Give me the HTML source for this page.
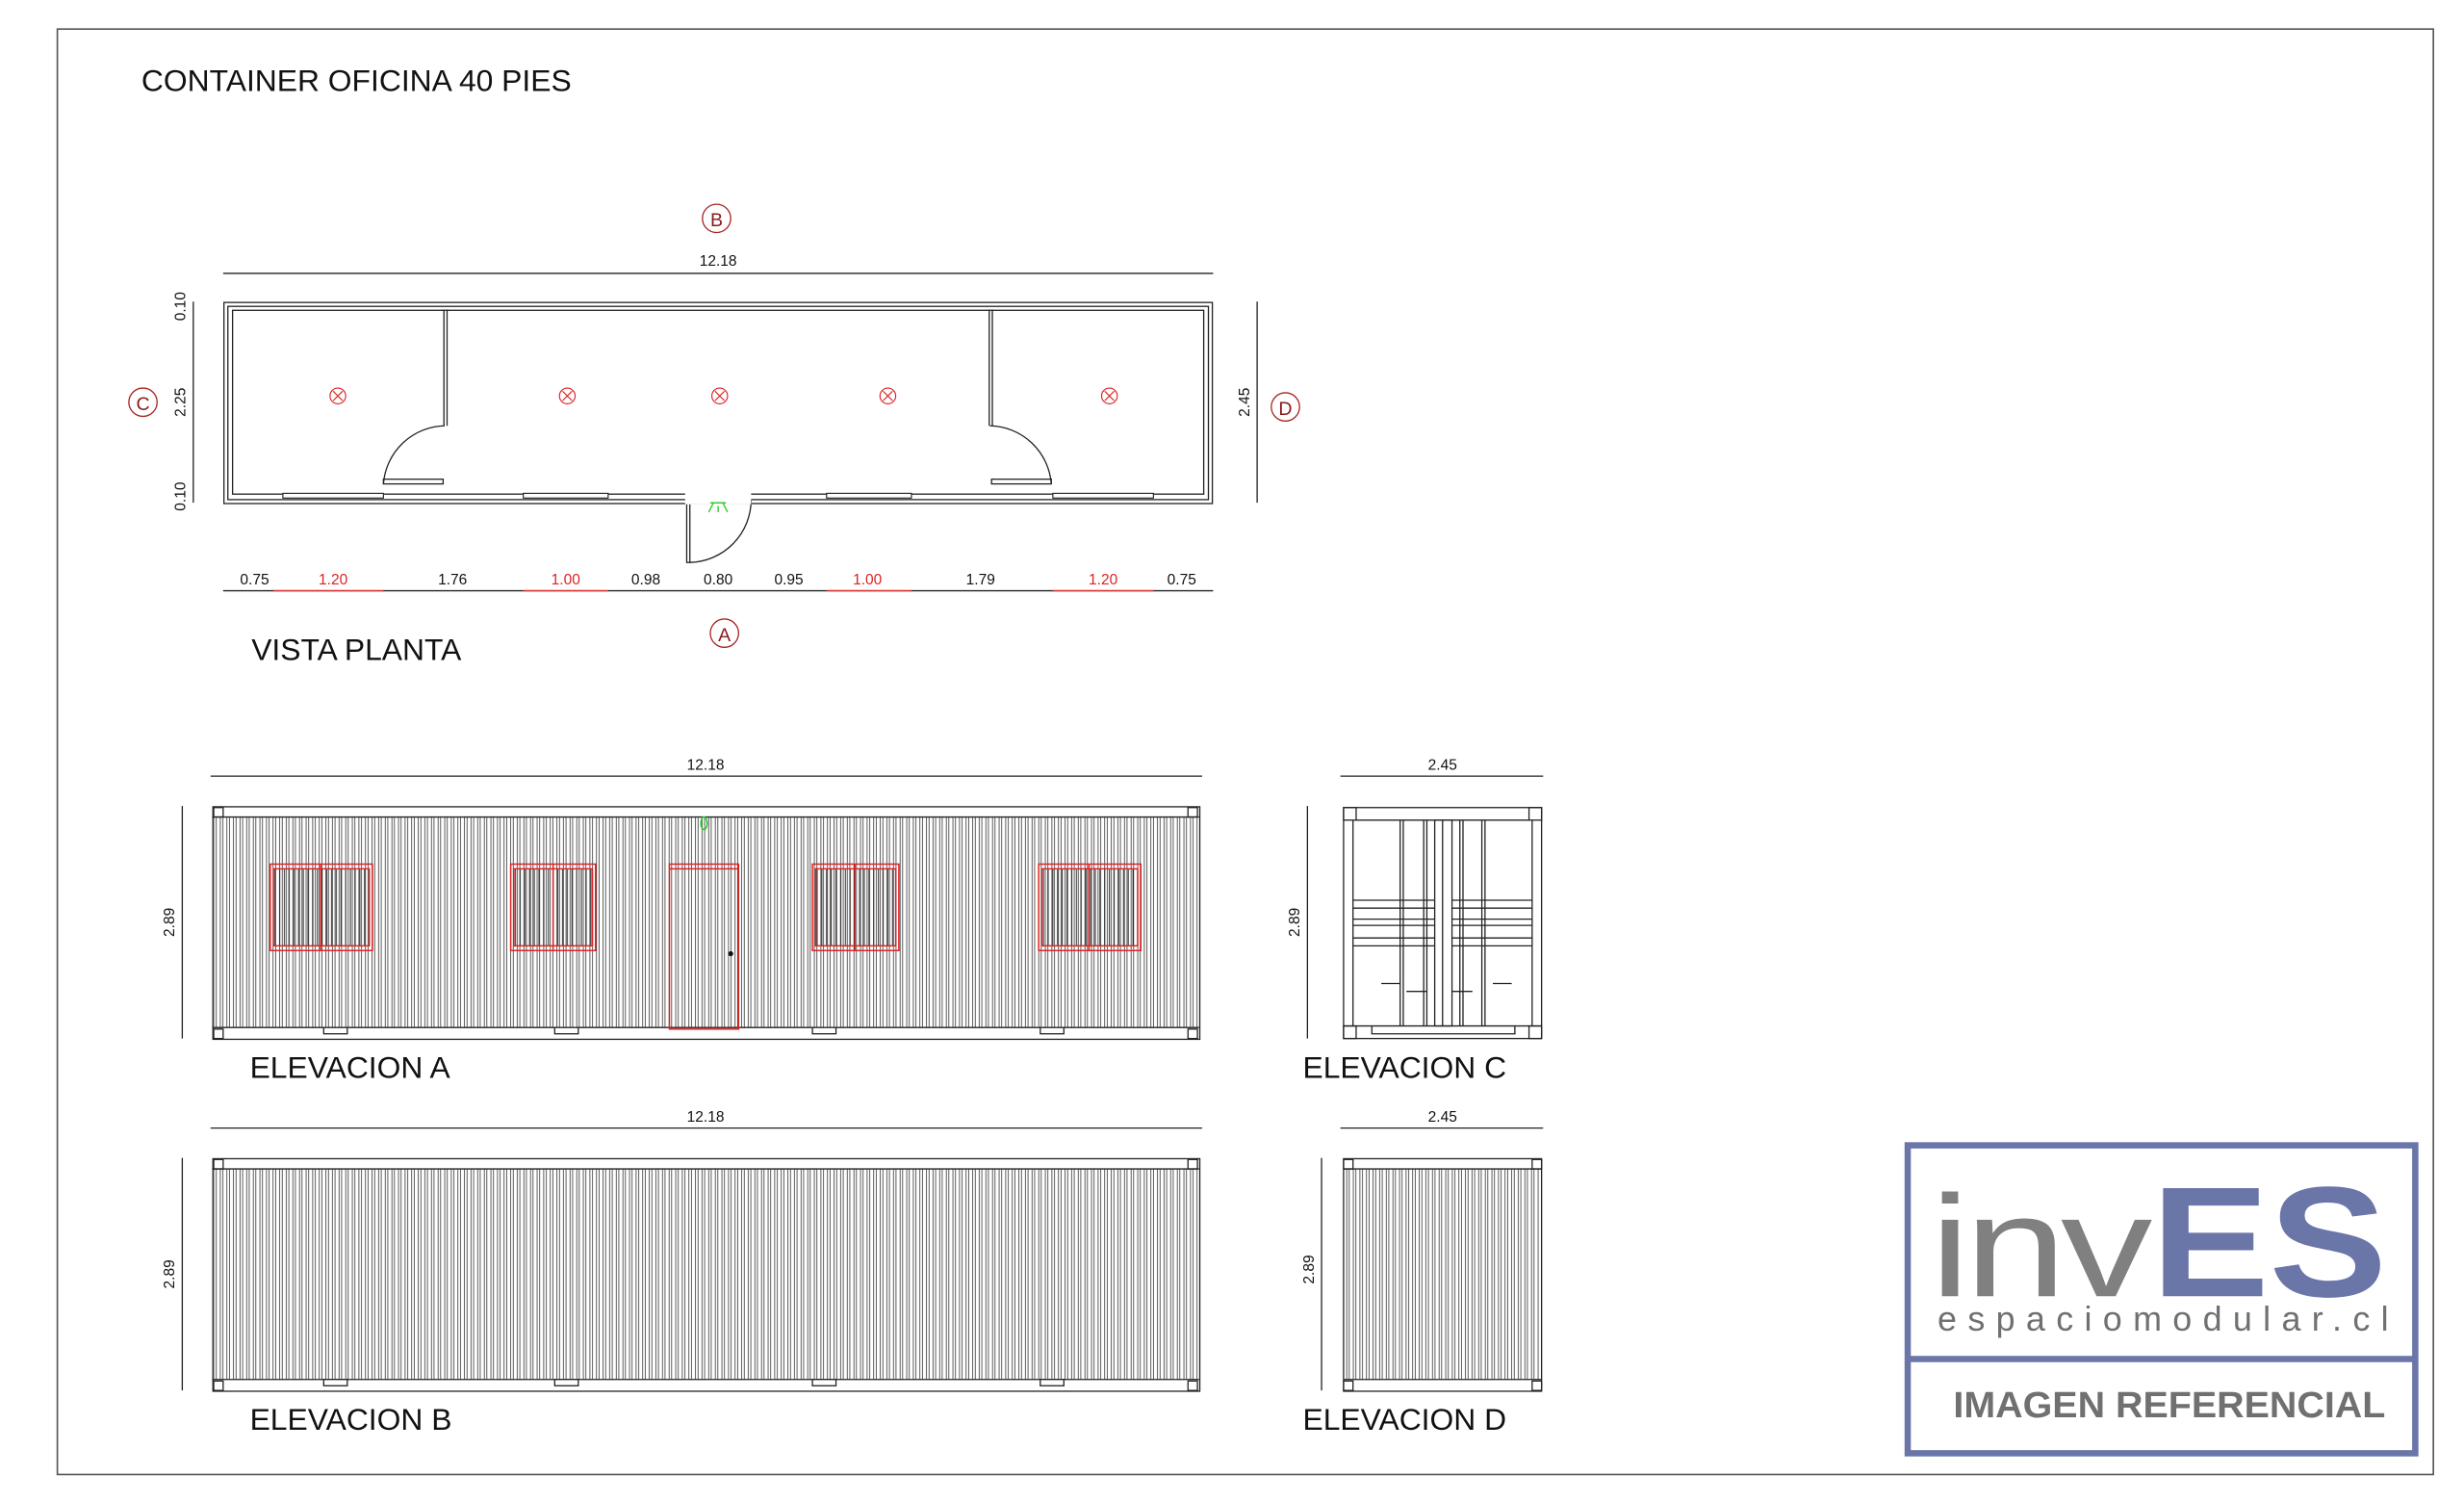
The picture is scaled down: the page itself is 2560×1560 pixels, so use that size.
<!DOCTYPE html>
<html><head><meta charset="utf-8"><style>
html,body{margin:0;padding:0;background:#fff;}
svg{display:block;}
text{font-family:"Liberation Sans",sans-serif;}
</style></head><body>
<svg width="2560" height="1560" viewBox="0 0 1568 956" preserveAspectRatio="none" xmlns="http://www.w3.org/2000/svg">
<defs>
<pattern id="corr" x="135" y="0" width="4.2" height="10" patternUnits="userSpaceOnUse">
<line x1="1" y1="0" x2="1" y2="10" stroke="#222" stroke-width="0.45"/>
<line x1="2.6" y1="0" x2="2.6" y2="10" stroke="#222" stroke-width="0.45"/>
</pattern>
<pattern id="corrD" x="856" y="0" width="4.2" height="10" patternUnits="userSpaceOnUse">
<line x1="1" y1="0" x2="1" y2="10" stroke="#222" stroke-width="0.45"/>
<line x1="2.6" y1="0" x2="2.6" y2="10" stroke="#222" stroke-width="0.45"/>
</pattern>
<pattern id="bars" x="0" y="0" width="3" height="10" patternUnits="userSpaceOnUse">
<line x1="1" y1="0" x2="1" y2="10" stroke="#222" stroke-width="0.6"/>
</pattern>
</defs>
<rect x="0" y="0" width="1568" height="956" fill="#fff"/>
<rect x="36.5" y="18.5" width="1512" height="920" fill="none" stroke="#555" stroke-width="1"/>
<text x="90" y="58" font-size="19.5" fill="#111">CONTAINER OFICINA 40 PIES</text>

<!-- PLAN -->
<g fill="none" stroke="#222" stroke-width="0.8">
<line x1="142" y1="174" x2="772" y2="174"/>
<rect x="142.5" y="192.5" width="629" height="128"/>
<rect x="145" y="195" width="624" height="123"/>
<rect x="148" y="197.5" width="618" height="117" />
<line x1="282.5" y1="197" x2="282.5" y2="271"/><line x1="284.5" y1="197" x2="284.5" y2="271"/>
<line x1="629.5" y1="197" x2="629.5" y2="271"/><line x1="631.5" y1="197" x2="631.5" y2="271"/>
<path d="M283 271 A40 40 0 0 0 244 308"/>
<rect x="244" y="305" width="38" height="3"/>
<path d="M630 271 A40 40 0 0 1 669 308"/>
<rect x="631" y="305" width="38" height="3"/>
<rect x="437" y="314" width="2" height="44"/>
<path d="M439 358 A40 40 0 0 0 478 318"/>
<line x1="123" y1="192" x2="123" y2="320"/>
<line x1="800" y1="192" x2="800" y2="320"/>
<line x1="142" y1="376" x2="772" y2="376"/>
</g>
<g fill="#fff" stroke="#222" stroke-width="0.7">
<rect x="180" y="314" width="64" height="3"/><rect x="333" y="314" width="54" height="3"/>
<rect x="526" y="314" width="54" height="3"/><rect x="670" y="314" width="64" height="3"/>
<rect x="436" y="313" width="42" height="8" stroke="none"/>
</g>
<g stroke="#d33" stroke-width="0.8">
<line x1="174" y1="376" x2="244" y2="376"/><line x1="333" y1="376" x2="387" y2="376"/>
<line x1="526" y1="376" x2="580" y2="376"/><line x1="670" y1="376" x2="734" y2="376"/>
</g>
<g fill="none" stroke="#d22" stroke-width="0.7">
<circle cx="215" cy="252" r="5"/><circle cx="361" cy="252" r="5"/><circle cx="458" cy="252" r="5"/><circle cx="565" cy="252" r="5"/><circle cx="706" cy="252" r="5"/>
<path d="M212 249l6 6M218 249l-6 6M358 249l6 6M364 249l-6 6M455 249l6 6M461 249l-6 6M562 249l6 6M568 249l-6 6M703 249l6 6M709 249l-6 6"/>
</g>
<g fill="none" stroke="#2c2" stroke-width="0.8"><path d="M452 320h10M454 320l-3 6M460 320l3 6M457 322v4"/></g>
<g font-size="9.5" fill="#111" text-anchor="middle">
<text x="457" y="169">12.18</text>
<text x="162" y="372">0.75</text><text x="212" y="372" fill="#d22">1.20</text><text x="288" y="372">1.76</text>
<text x="360" y="372" fill="#d22">1.00</text><text x="411" y="372">0.98</text><text x="457" y="372">0.80</text>
<text x="502" y="372">0.95</text><text x="552" y="372" fill="#d22">1.00</text><text x="624" y="372">1.79</text>
<text x="702" y="372" fill="#d22">1.20</text><text x="752" y="372">0.75</text>
<text transform="translate(118,195) rotate(-90)">0.10</text>
<text transform="translate(118,256) rotate(-90)">2.25</text>
<text transform="translate(118,316) rotate(-90)">0.10</text>
<text transform="translate(795,256) rotate(-90)">2.45</text>
</g>
<g fill="none" stroke="#a22" stroke-width="0.8">
<circle cx="456" cy="139" r="9"/><circle cx="91" cy="256" r="9"/><circle cx="818" cy="259" r="9"/><circle cx="461" cy="403" r="9"/>
</g>
<g font-size="12" fill="#8a1a1a" text-anchor="middle">
<text x="456" y="144">B</text><text x="91" y="261">C</text><text x="818" y="264">D</text><text x="461" y="408">A</text>
</g>
<text x="160" y="420" font-size="19.5" fill="#111">VISTA PLANTA</text>

<!-- ELEVACION A -->
<g stroke="#222" stroke-width="0.8" fill="none">
<line x1="134" y1="494" x2="765" y2="494"/>
<line x1="116" y1="513" x2="116" y2="661"/>
<rect x="135.5" y="513.5" width="628" height="148" fill="#fff"/>
<rect x="136" y="520" width="627" height="134" fill="url(#corr)" stroke="none"/>
<line x1="135" y1="520" x2="763" y2="520"/><line x1="135" y1="654" x2="763" y2="654"/>
<rect x="136" y="514" width="6" height="6"/><rect x="756" y="514" width="6" height="6"/>
<rect x="136" y="655" width="6" height="6"/><rect x="756" y="655" width="6" height="6"/>
<rect x="206" y="654" width="15" height="4" fill="#fff"/><rect x="353" y="654" width="15" height="4" fill="#fff"/>
<rect x="517" y="654" width="15" height="4" fill="#fff"/><rect x="662" y="654" width="15" height="4" fill="#fff"/>
</g>
<g stroke="none">
<rect x="174" y="553" width="61" height="49" fill="url(#bars)"/>
<rect x="327" y="553" width="50" height="49" fill="url(#bars)"/>
<rect x="519" y="553" width="51" height="49" fill="url(#bars)"/>
<rect x="663" y="553" width="61" height="49" fill="url(#bars)"/>
</g>
<g stroke="#d22" stroke-width="0.9" fill="none">
<rect x="172" y="550" width="65" height="55"/><rect x="174" y="553" width="61" height="49"/><line x1="204" y1="550" x2="204" y2="605"/>
<rect x="325" y="550" width="54" height="55"/><rect x="327" y="553" width="50" height="49"/><line x1="352" y1="550" x2="352" y2="605"/>
<rect x="517" y="550" width="55" height="55"/><rect x="519" y="553" width="51" height="49"/><line x1="544" y1="550" x2="544" y2="605"/>
<rect x="661" y="550" width="65" height="55"/><rect x="663" y="553" width="61" height="49"/><line x1="693" y1="550" x2="693" y2="605"/>
<rect x="426" y="550" width="44" height="105"/><line x1="426" y1="553" x2="470" y2="553"/>
</g>
<circle cx="465" cy="607" r="1.6" fill="#111"/>
<ellipse cx="448" cy="524" rx="2" ry="4" fill="none" stroke="#2c2" stroke-width="0.9"/>
<g font-size="9.5" fill="#111" text-anchor="middle">
<text x="449" y="490">12.18</text>
<text transform="translate(111,587) rotate(-90)">2.89</text>
<text x="918" y="490">2.45</text>
<text transform="translate(827,587) rotate(-90)">2.89</text>
<text x="449" y="714">12.18</text>
<text transform="translate(111,811) rotate(-90)">2.89</text>
<text x="918" y="714">2.45</text>
<text transform="translate(836,808) rotate(-90)">2.89</text>
</g>
<text x="159" y="686" font-size="19.5" fill="#111">ELEVACION A</text>

<!-- ELEVACION C -->
<g stroke="#222" stroke-width="0.8" fill="none">
<line x1="853" y1="494" x2="982" y2="494"/>
<line x1="832" y1="513" x2="832" y2="661"/>
<rect x="855" y="514" width="126" height="147"/>
<rect x="855" y="514" width="8" height="8"/><rect x="973" y="514" width="8" height="8"/>
<rect x="855" y="653" width="8" height="8"/><rect x="973" y="653" width="8" height="8"/>
<line x1="863" y1="522" x2="973" y2="522"/>
<line x1="861" y1="522" x2="861" y2="653"/><line x1="975" y1="522" x2="975" y2="653"/>
<line x1="855" y1="653" x2="981" y2="653"/>
<path d="M873 653v5h91v-5"/>
<line x1="891" y1="522" x2="891" y2="653"/><line x1="893" y1="522" x2="893" y2="653"/>
<line x1="906" y1="522" x2="906" y2="653"/><line x1="908" y1="522" x2="908" y2="653"/>
<line x1="929" y1="522" x2="929" y2="653"/><line x1="931" y1="522" x2="931" y2="653"/>
<line x1="943" y1="522" x2="943" y2="653"/><line x1="945" y1="522" x2="945" y2="653"/>
<rect x="913" y="522" width="11" height="131"/>
<line x1="918" y1="522" x2="918" y2="653"/>
<path d="M861 573h52M861 578h52M861 585h52M861 589h52M861 597h52M861 602h52"/>
<path d="M924 573h51M924 578h51M924 585h51M924 589h51M924 597h51M924 602h51"/>
<path d="M879 626h12M895 631h13M937 631h-13M950 626h12"/>
</g>
<text x="829" y="686" font-size="19.5" fill="#111">ELEVACION C</text>

<!-- ELEVACION B -->
<g stroke="#222" stroke-width="0.8" fill="none">
<line x1="134" y1="718" x2="765" y2="718"/>
<line x1="116" y1="737" x2="116" y2="885"/>
<rect x="135.5" y="737.5" width="628" height="148" fill="#fff"/>
<rect x="136" y="744" width="627" height="134" fill="url(#corr)" stroke="none"/>
<line x1="135" y1="744" x2="763" y2="744"/><line x1="135" y1="878" x2="763" y2="878"/>
<rect x="136" y="738" width="6" height="6"/><rect x="756" y="738" width="6" height="6"/>
<rect x="136" y="879" width="6" height="6"/><rect x="756" y="879" width="6" height="6"/>
<rect x="206" y="878" width="15" height="4" fill="#fff"/><rect x="353" y="878" width="15" height="4" fill="#fff"/>
<rect x="517" y="878" width="15" height="4" fill="#fff"/><rect x="662" y="878" width="15" height="4" fill="#fff"/>
</g>
<text x="159" y="910" font-size="19.5" fill="#111">ELEVACION B</text>

<!-- ELEVACION D -->
<g stroke="#222" stroke-width="0.8" fill="none">
<line x1="853" y1="718" x2="982" y2="718"/>
<line x1="841" y1="737" x2="841" y2="885"/>
<rect x="855" y="737.5" width="126" height="148" fill="#fff"/>
<rect x="856" y="744" width="124" height="134" fill="url(#corrD)" stroke="none"/>
<line x1="855" y1="744" x2="981" y2="744"/><line x1="855" y1="878" x2="981" y2="878"/>
<rect x="855" y="738" width="6" height="6"/><rect x="975" y="738" width="6" height="6"/>
<rect x="855" y="879" width="6" height="6"/><rect x="975" y="879" width="6" height="6"/>
</g>
<text x="829" y="910" font-size="19.5" fill="#111">ELEVACION D</text>

<!-- LOGO -->
<rect x="1214" y="729" width="323" height="196" fill="#fff" stroke="#6a75a8" stroke-width="4"/>
<line x1="1214" y1="865" x2="1537" y2="865" stroke="#6a75a8" stroke-width="4"/>
<text x="1228" y="825" font-size="92" fill="#808080" letter-spacing="-3" textLength="138" lengthAdjust="spacingAndGlyphs">inv</text>
<text x="1369" y="825" font-size="100" fill="#6a75a8" font-weight="bold" textLength="150" lengthAdjust="spacingAndGlyphs">ES</text>
<text x="1233" y="847" font-size="22" fill="#707070" textLength="287" lengthAdjust="spacing">espaciomodular.cl</text>
<text x="1243" y="902" font-size="23" fill="#707070" font-weight="bold" textLength="275" lengthAdjust="spacingAndGlyphs">IMAGEN REFERENCIAL</text>
</svg>
</body></html>
